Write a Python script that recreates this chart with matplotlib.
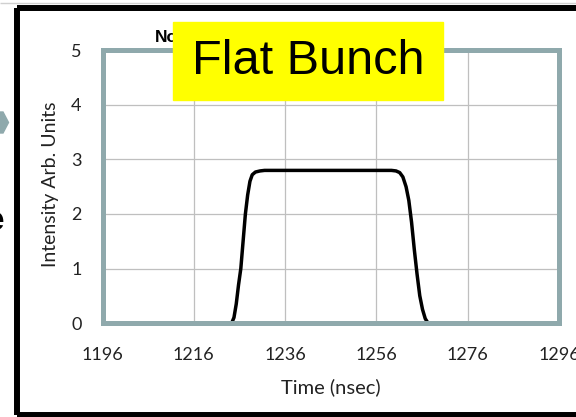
import numpy as np
import matplotlib
matplotlib.use('Agg')
import matplotlib.pyplot as plt
from matplotlib.lines import Line2D
from matplotlib.patches import Polygon, Rectangle

# values
time_ns = [1196, 1224.3, 1224.8, 1225.3, 1225.8, 1226.3, 1226.8, 1227.3, 1227.8,
           1228.3, 1228.8, 1229.5, 1230.5, 1231.5, 1259.3, 1260.3, 1261.1, 1261.8,
           1262.5, 1263.1, 1263.7, 1264.3, 1264.9, 1265.5, 1266.1, 1266.7, 1267.3, 1296]
intensity = [0, 0, 0.1, 0.35, 0.7, 1.0, 1.5, 2.0, 2.35,
             2.6, 2.72, 2.77, 2.79, 2.8, 2.8, 2.79, 2.76, 2.68,
             2.5, 2.25, 1.85, 1.35, 0.9, 0.5, 0.25, 0.08, 0, 0]
x_ticks = [1196, 1216, 1236, 1256, 1276, 1296]
y_ticks = [0, 1, 2, 3, 4, 5]

W, H = 576, 417
fig = plt.figure(figsize=(W / 100, H / 100), dpi=100)
fig.patch.set_facecolor('white')

# plot area in pixels: left, right, top, bottom
L, R, T, B = 102.5, 559, 50.5, 323
ax = fig.add_axes([L / W, 1 - B / H, (R - L) / W, (B - T) / H])

ax.plot(time_ns, intensity, color='black', lw=2.5, solid_capstyle='round', zorder=2)

ax.set_xlim(1196, 1296)
ax.set_ylim(0, 5)
ax.set_xticks(x_ticks)
ax.set_yticks(y_ticks)
ax.grid(True, color='#BFBFBF', lw=0.9, zorder=0)
ax.set_axisbelow(True)
ax.tick_params(length=0, labelsize=13, colors='#222222', pad=0)
ax.tick_params(axis='x', pad=17)
ax.tick_params(axis='y', pad=15)
for lab in ax.get_xticklabels() + ax.get_yticklabels():
    lab.set_family('Lato')

spine_col = '#8FA9AC'
for s in ax.spines.values():
    s.set_color(spine_col)
    s.set_linewidth(3.6)
    s.set_zorder(3)

ax.set_xlabel('Time (nsec)', family='Lato', fontsize=14.5, color='#222222')
ax.set_ylabel('Intensity Arb. Units', family='Lato', fontsize=14, color='#222222')
ax.yaxis.set_label_coords(-52 / (R - L), (B - 184) / (B - T))
ax.xaxis.set_label_coords(0.5, -(387 - B) / (B - T))
ax.xaxis.label.set_va('center')
ax.yaxis.label.set_va('center')


def px(x, y):
    return x / W, 1 - y / H


# slide frame
for (x0, y0), (x1, y1), c, lw in [((0, 2.5), (W, 2.5), '#D0D0D0', 1.0),
                                  ((16.5, 7.5), (W, 7.5), 'black', 4.3),
                                  ((16.5, 7.5), (16.5, 415), 'black', 4.3),
                                  ((16.5, 415), (W, 415), 'black', 4.3)]:
    fig.add_artist(Line2D([x0 / W, x1 / W], [1 - y0 / H, 1 - y1 / H], color=c, lw=lw,
                          transform=fig.transFigure, solid_capstyle='butt'))

# bits of the slide around the chart
fig.add_artist(Polygon([px(0, 112), px(3, 112), px(8.5, 122.5), px(3, 133), px(0, 133)],
                       closed=True, color=spine_col, transform=fig.transFigure))
fig.text(*px(-14, 221), 'e', family='Liberation Sans', fontsize=24, fontweight='bold',
         ha='left', va='center')

# chart title, mostly hidden by the label
fig.text(*px(155, 37), 'Normalized', family='Liberation Sans', fontsize=12.5,
         fontweight='bold', ha='left', va='center', zorder=5)
fig.add_artist(Rectangle(px(173, 100), (443 - 173) / W, (100 - 22) / H, color='#FFFF00',
                         transform=fig.transFigure, zorder=6))
fig.text(*px(308, 62), 'Flat Bunch', family='Liberation Sans', fontsize=35,
         ha='center', va='center', zorder=7)

fig.savefig('out.png', dpi=100)
